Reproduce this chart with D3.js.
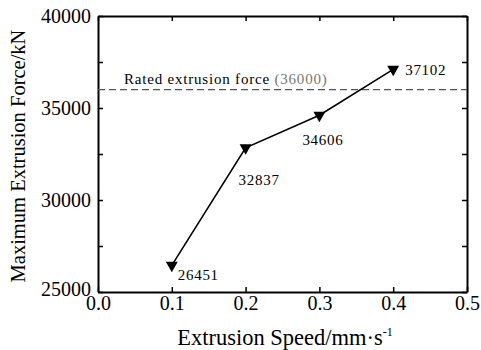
<!DOCTYPE html>
<html><head><meta charset="utf-8">
<script src="https://cdn.jsdelivr.net/npm/d3@7"></script>
<style>body{margin:0;background:#fff}svg{display:block}text{font-family:"Liberation Serif","Times New Roman",serif}</style>
</head><body><svg id="c" width="481" height="350"></svg>
<script>
const speeds = [0.1, 0.2, 0.3, 0.4];
const forces = [26451, 32837, 34606, 37102];
const labelOffsets = [[6, 15], [-7, 37], [-17, 30], [12, 6]];
const ratedForce = 36000;
const xTicks = [0.0, 0.1, 0.2, 0.3, 0.4, 0.5];
const yTicks = [25000, 30000, 35000, 40000];
const yMinor = [27500, 32500, 37500];

const svg = d3.select("#c");
const L = 98, R = 467, T = 16, B = 292;
const x = d3.scaleLinear().domain([0, 0.5]).range([L, R]);
const y = d3.scaleLinear().domain([25000, 40000]).range([B, T]);

// axes
const gBottom = svg.append("g").attr("transform", `translate(0,${B})`)
  .call(d3.axisBottom(x).tickValues(xTicks).tickFormat(d3.format(".1f")).tickSizeInner(-5).tickSizeOuter(0).tickPadding(4));
const gTop = svg.append("g").attr("transform", `translate(0,${T})`)
  .call(d3.axisTop(x).tickValues(xTicks).tickFormat("").tickSizeInner(-5).tickSizeOuter(0));
const gLeft = svg.append("g").attr("transform", `translate(${L},0)`)
  .call(d3.axisLeft(y).tickValues(yTicks.concat(yMinor)).tickFormat(d => yTicks.includes(d) ? d : "").tickSizeInner(-5).tickSizeOuter(0).tickPadding(7));
const gRight = svg.append("g").attr("transform", `translate(${R},0)`)
  .call(d3.axisRight(y).tickValues(yTicks.concat(yMinor)).tickFormat("").tickSizeInner(-5).tickSizeOuter(0));
[gBottom, gTop, gLeft, gRight].forEach(g => {
  g.selectAll("path.domain").attr("stroke", "#000").attr("stroke-width", 2);
  g.selectAll(".tick line").attr("stroke", "#000").attr("stroke-width", 1.5);
  g.selectAll(".tick text").attr("fill", "#000").style("font-size", "20px").style("font-family", '"Liberation Serif",serif');
});
gLeft.selectAll(".tick text").filter(d => d === 25000).attr("dy", "0.18em");

// rated line
svg.append("line").attr("x1", L).attr("x2", R).attr("y1", y(ratedForce)).attr("y2", y(ratedForce))
  .attr("stroke", "#555").attr("stroke-width", 1.3).attr("stroke-dasharray", "7,4");
const rt = svg.append("text").attr("x", 124).attr("y", y(ratedForce) - 6)
  .style("font-size", "15px").style("letter-spacing", "0.8px").attr("fill", "#000");
rt.append("tspan").text("Rated extrusion force ");
rt.append("tspan").attr("fill", "#777").text(`(${ratedForce})`);

// data line
const pts = speeds.map((s, i) => [s, forces[i]]);
svg.append("path").datum(pts)
  .attr("d", d3.line().x(d => x(d[0])).y(d => y(d[1])))
  .attr("fill", "none").attr("stroke", "#000").attr("stroke-width", 1.6);

const tri = d3.symbol().type(d3.symbolTriangle).size(62);
svg.selectAll("path.m").data(pts).join("path").attr("class", "m")
  .attr("d", tri)
  .attr("transform", d => `translate(${x(d[0])},${y(d[1])}) rotate(180)`)
  .attr("fill", "#000");

svg.selectAll("text.lbl").data(pts).join("text").attr("class", "lbl")
  .attr("x", (d, i) => x(d[0]) + labelOffsets[i][0])
  .attr("y", (d, i) => y(d[1]) + labelOffsets[i][1])
  .style("font-size", "15px").style("letter-spacing", "0.7px").text(d => d[1]);

// axis titles
const xt = svg.append("text").attr("x", 285).attr("y", 345).attr("text-anchor", "middle").style("font-size", "22.5px");
xt.append("tspan").text("Extrusion Speed/mm·s");
xt.append("tspan").attr("dy", -9).style("font-size", "12px").text("-1");

svg.append("text").attr("transform", `translate(25,${(T + B) / 2 + 2}) rotate(-90)`)
  .attr("text-anchor", "middle").style("font-size", "20.5px").text("Maximum Extrusion Force/kN");
</script></body></html>
